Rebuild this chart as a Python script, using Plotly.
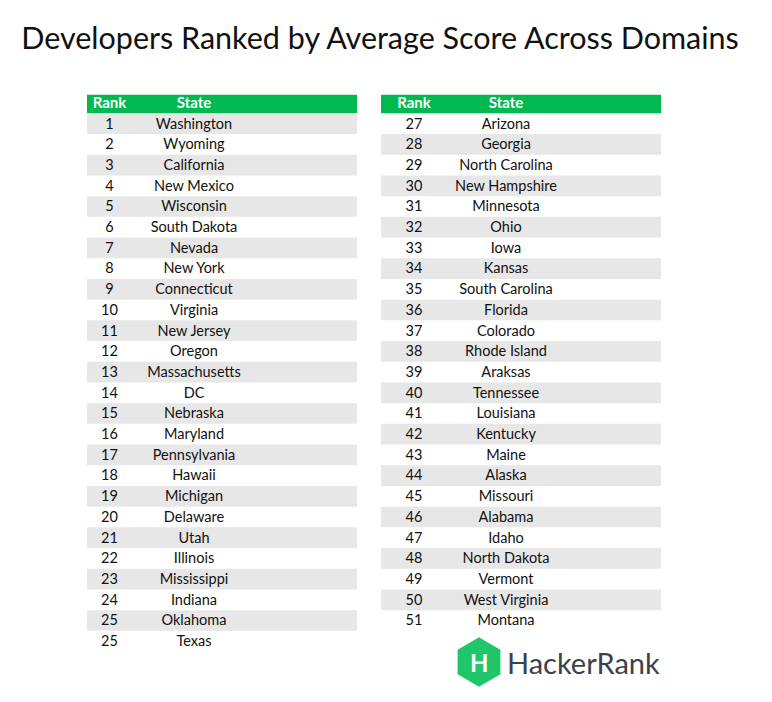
import plotly.graph_objects as go

# ranking data
ranks_left = [1, 2, 3, 4, 5, 6, 7, 8, 9, 10, 11, 12, 13, 14, 15, 16, 17, 18, 19,
              20, 21, 22, 23, 24, 25, 25]
states_left = ["Washington", "Wyoming", "California", "New Mexico", "Wisconsin",
               "South Dakota", "Nevada", "New York", "Connecticut", "Virginia",
               "New Jersey", "Oregon", "Massachusetts", "DC", "Nebraska", "Maryland",
               "Pennsylvania", "Hawaii", "Michigan", "Delaware", "Utah", "Illinois",
               "Mississippi", "Indiana", "Oklahoma", "Texas"]

ranks_right = [27, 28, 29, 30, 31, 32, 33, 34, 35, 36, 37, 38, 39, 40, 41, 42, 43,
               44, 45, 46, 47, 48, 49, 50, 51]
states_right = ["Arizona", "Georgia", "North Carolina", "New Hampshire", "Minnesota",
                "Ohio", "Iowa", "Kansas", "South Carolina", "Florida", "Colorado",
                "Rhode Island", "Araksas", "Tennessee", "Louisiana", "Kentucky",
                "Maine", "Alaska", "Missouri", "Alabama", "Idaho", "North Dakota",
                "Vermont", "West Virginia", "Montana"]

header_labels = ["Rank", "State"]

W, H = 772, 702
PAD = 8  # page body margin
GREEN = "#00b950"
GRAY = "#e7e7e7"
ROW_H = 20.7
HEADER_Y = 104
FIRST_ROW_Y = 123.7
TXT_DY = 1.2  # text sits a touch lower than the band centre

fig = go.Figure()


def add_table(ranks, states, x0, x1, rank_x, state_x, gray_first):
    n = len(ranks)
    ys = [FIRST_ROW_Y + i * ROW_H for i in range(n)]
    gray_ys = [y for i, y in enumerate(ys) if (i % 2 == 0) == gray_first]
    text_ys = [y + TXT_DY for y in ys]

    # header band
    fig.add_trace(go.Bar(y=[HEADER_Y], x=[x1 - x0], base=[x0], width=[18.5],
                         orientation="h", marker=dict(color=GREEN, line=dict(width=0)),
                         hoverinfo="skip"))
    # striped rows
    fig.add_trace(go.Bar(y=gray_ys, x=[x1 - x0] * len(gray_ys), base=[x0] * len(gray_ys),
                         width=[ROW_H] * len(gray_ys), orientation="h",
                         marker=dict(color=GRAY, line=dict(width=0)), hoverinfo="skip"))
    # header text
    fig.add_trace(go.Scatter(x=[rank_x, state_x], y=[HEADER_Y + 0.5] * 2, mode="text",
                             text=["<b>%s</b>" % h for h in header_labels],
                             textposition="middle center",
                             textfont=dict(family="Lato", size=15, color="white"),
                             hoverinfo="skip"))
    # rank and state text
    fig.add_trace(go.Scatter(x=[rank_x] * n, y=text_ys, mode="text",
                             text=[str(r) for r in ranks], textposition="middle center",
                             textfont=dict(family="Lato", size=14.5, color="#111111"),
                             hoverinfo="skip"))
    fig.add_trace(go.Scatter(x=[state_x] * n, y=text_ys, mode="text", text=states,
                             textposition="middle center",
                             textfont=dict(family="Lato", size=14.5, color="#111111"),
                             hoverinfo="skip"))


add_table(ranks_left, states_left, 87, 357, 109.5, 194, True)
add_table(ranks_right, states_right, 381, 661, 414, 506, False)

# HackerRank logo
hx, hy, r = 479, 662, 23
pts = [(hx, hy - r), (hx + 0.866 * r, hy - r / 2), (hx + 0.866 * r, hy + r / 2),
       (hx, hy + r), (hx - 0.866 * r, hy + r / 2), (hx - 0.866 * r, hy - r / 2)]
path = "M " + " L ".join("%.1f,%.1f" % p for p in pts) + " Z"
fig.add_shape(type="path", path=path, xref="x", yref="y",
              fillcolor="#1fc66a", line=dict(color="#1fc66a", width=3))
fig.add_annotation(x=hx, y=hy, text="<b>H</b>", showarrow=False,
                   font=dict(family="Lato", size=24, color="white"))
fig.add_annotation(x=505, y=662, text="HackerRank", xanchor="left", showarrow=False,
                   font=dict(family="Lato", size=29, color="#39424e"))

fig.update_layout(
    width=W - PAD, height=H - PAD,
    margin=dict(l=0, r=0, t=0, b=0),
    paper_bgcolor="white", plot_bgcolor="white",
    showlegend=False, barmode="overlay",
    xaxis=dict(range=[PAD, W], visible=False, fixedrange=True),
    yaxis=dict(range=[H, PAD], visible=False, fixedrange=True),
    title=dict(text="Developers Ranked by Average Score Across Domains",
               x=(380 - PAD) / (W - PAD), xanchor="center",
               y=1 - (38 - PAD) / (H - PAD), yanchor="middle",
               font=dict(family="Lato", size=30.5, color="#111111")),
)

fig.write_html("out.html")
